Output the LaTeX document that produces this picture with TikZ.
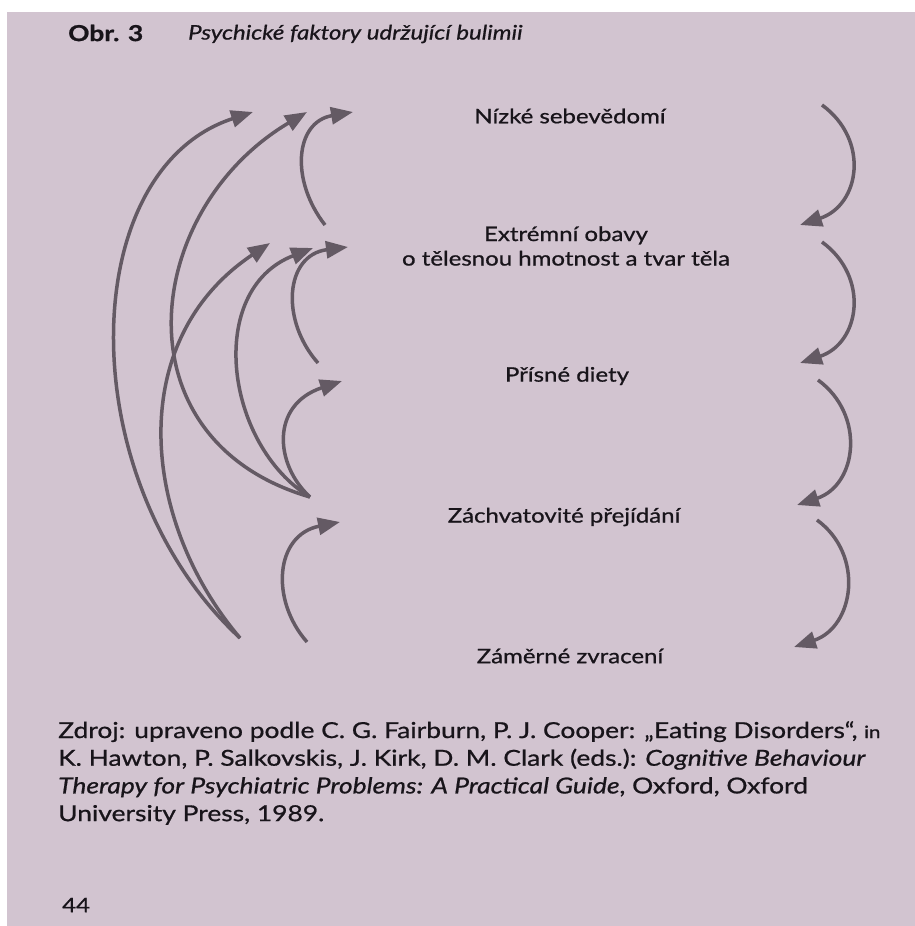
\documentclass[tikz,border=0pt]{standalone}
\usepackage{fontspec}
\setmainfont{Lato}[FakeStretch=1.2, FakeBold=0.8]
\usetikzlibrary{arrows.meta}
\definecolor{pagebg}{RGB}{210,196,208}
\definecolor{arrgray}{RGB}{100,90,100}
\definecolor{inkdark}{RGB}{24,20,26}

\begin{document}
\begin{tikzpicture}[x=1pt, y=-1pt,
  lbl/.style={font=\fontsize{20}{24.5}\selectfont, text=inkdark, align=center, inner sep=0pt},
  txt/.style={text=inkdark, inner sep=0pt, anchor=west},
  arr/.style={-{Triangle[length=22pt,width=17pt]}, line width=3.5pt, draw=arrgray}
]
% page
\useasboundingbox (0,0) rectangle (915,926);
\fill[pagebg] (7,12) rectangle (915,926);

% Title
\node[txt, font=\fontsize{22}{26}\selectfont\bfseries] (fignum) at (68,33) {Obr. 3};
\node[txt, font=\fontsize{20}{24}\selectfont\itshape] (figtitle) at (188,34) {Psychické faktory udržující bulimii};

% Factors
\node[lbl] (low)     at (570,116) {Nízké sebevědomí};
\node[lbl] (concern) at (566,246) {Extrémní obavy\\o tělesnou hmotnost a tvar těla};
\node[lbl] (diet)    at (567,376) {Přísné diety};
\node[lbl] (binge)   at (564,517) {Záchvatovité přejídání};
\node[lbl] (vomit)   at (570,656) {Záměrné zvracení};

% Arrow ends
\coordinate (lowR)       at (822,105);
\coordinate (concernRin) at (800,225);
\coordinate (concernR)   at (822,242);
\coordinate (dietRin)    at (800,363);
\coordinate (dietR)      at (818,380);
\coordinate (bingeRin)   at (797,505);
\coordinate (bingeR)     at (817,520);
\coordinate (vomitRin)   at (794,647);

\coordinate (lowA)     at (253,112);
\coordinate (lowB)     at (307,112);
\coordinate (lowC)     at (353,112);
\coordinate (concernA) at (270,243);
\coordinate (concernB) at (313,248);
\coordinate (concernC) at (348,247);
\coordinate (concernT) at (325,225);
\coordinate (dietA)    at (342,381);
\coordinate (dietT)    at (318,363);
\coordinate (bingeA)   at (340,522);
\coordinate (bingeT)   at (310,497);
\coordinate (vomitT)   at (307,642);
\coordinate (vomitS)   at (240,638);

% Right side: chain downwards
\draw[arr] (lowR)     .. controls +(48,35) and +(60,-20) .. (concernRin);
\draw[arr] (concernR) .. controls +(48,35) and +(60,-20) .. (dietRin);
\draw[arr] (dietR)    .. controls +(48,35) and +(60,-20) .. (bingeRin);
\draw[arr] (bingeR)   .. controls +(48,35) and +(60,-20) .. (vomitRin);

% Left side: feedback upwards
\draw[arr] (concernT) .. controls +(-35,-45) and +(-58,10) .. (lowC);
\draw[arr] (dietT)    .. controls +(-38,-43) and +(-63,8) .. (concernC);
\draw[arr] (bingeT)   .. controls +(-35,-32) and +(-72,24) .. (dietA);
\draw[arr] (bingeT)   .. controls +(-85,-52) and +(-108,42) .. (concernB);
\draw[arr] (bingeT)   .. controls +(-195,-57) and +(-165,98) .. (lowB);
\draw[arr] (vomitT)   .. controls +(-37,-42) and +(-65,13) .. (bingeA);
\draw[arr] (vomitS)   .. controls +(-100,-118) and +(-145,97) .. (concernA);
\draw[arr] (vomitS)   .. controls +(-170,-158) and +(-178,58) .. (lowA);

% Source
\node[txt, anchor=north west, align=left, font=\fontsize{22}{27.7}\selectfont] (source) at (58,721)
  {Zdroj: upraveno podle C. G. Fairburn, P. J. Cooper: „Eating Disorders“, {\fontsize{17}{20}\selectfont in}\\
   K. Hawton, P. Salkovskis, J. Kirk, D. M. Clark (eds.): \textit{Cognitive Behaviour}\\
   \textit{Therapy for Psychiatric Problems: A Practical Guide}, Oxford, Oxford\\
   University Press, 1989.};

\node[txt, font=\fontsize{20}{24}\selectfont] (pagenum) at (62,905) {44};
\end{tikzpicture}
\end{document}
